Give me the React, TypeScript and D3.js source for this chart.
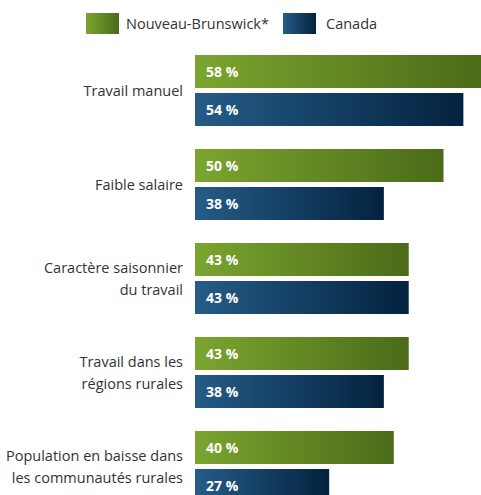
import * as d3 from 'd3'

const categories = [
  ['Travail manuel'],
  ['Faible salaire'],
  ['Caractère saisonnier', 'du travail'],
  ['Travail dans les', 'régions rurales'],
  ['Population en baisse dans', 'les communautés rurales'],
]
const nbValues = [58, 50, 43, 43, 40]
const canadaValues = [54, 38, 43, 38, 27]
const seriesNames = ['Nouveau-Brunswick*', 'Canada']

const font = "'Open Sans', 'Noto Sans', sans-serif"

export default function App() {
  const width = 481
  const height = 495
  const x = d3.scaleLinear().domain([0, 100]).range([195, 692])
  const y = d3
    .scaleBand<number>()
    .domain(categories.map((_, i) => i))
    .range([55, 525])
    .paddingInner(0)
  const barH = 33
  const gap = 5

  const series = [
    { name: seriesNames[0], values: nbValues, grad: 'gradNB' },
    { name: seriesNames[1], values: canadaValues, grad: 'gradCA' },
  ]

  return (
    <svg
      width={width}
      height={height}
      style={{ position: 'absolute', left: 0, top: 0, fontFamily: font }}
    >
      <defs>
        <linearGradient id="gradNB" x1="0%" y1="0%" x2="100%" y2="0%">
          <stop offset="0%" stopColor="#7ba52f" />
          <stop offset="100%" stopColor="#4b6b18" />
        </linearGradient>
        <linearGradient id="gradCA" x1="0%" y1="0%" x2="100%" y2="0%">
          <stop offset="0%" stopColor="#255c87" />
          <stop offset="100%" stopColor="#03223f" />
        </linearGradient>
      </defs>

      {/* legend */}
      <rect x={86} y={13} width={33} height={21} fill="url(#gradNB)" />
      <text x={126} y={29} fontSize="14.5" fill="#333">{series[0].name}</text>
      <rect x={283} y={13} width={33} height={21} fill="url(#gradCA)" />
      <text x={326} y={29} fontSize="14.5" fill="#333">{series[1].name}</text>

      {categories.map((lines, i) => {
        const top = y(i) ?? 0
        const mid = top + barH + gap / 2
        const lineH = 22
        const startY = mid - ((lines.length - 1) * lineH) / 2 + 5
        return (
          <g key={i}>
            {lines.map((line, j) => (
              <text
                key={j}
                x={183}
                y={startY + j * lineH}
                textAnchor="end"
                fontSize="14.5"
                fill="#333"
              >
                {line}
              </text>
            ))}
            {series.map((s, k) => {
              const by = top + k * (barH + gap)
              return (
                <g key={s.name}>
                  <rect
                    x={x(0)}
                    y={by}
                    width={x(s.values[i]) - x(0)}
                    height={barH}
                    fill={`url(#${s.grad})`}
                  />
                  <text
                    x={x(0) + 11}
                    y={by + barH / 2 + 5}
                    fontSize="14"
                    fontWeight="bold"
                    fill="#fff"
                  >
                    {`${s.values[i]} %`}
                  </text>
                </g>
              )
            })}
          </g>
        )
      })}
    </svg>
  )
}
